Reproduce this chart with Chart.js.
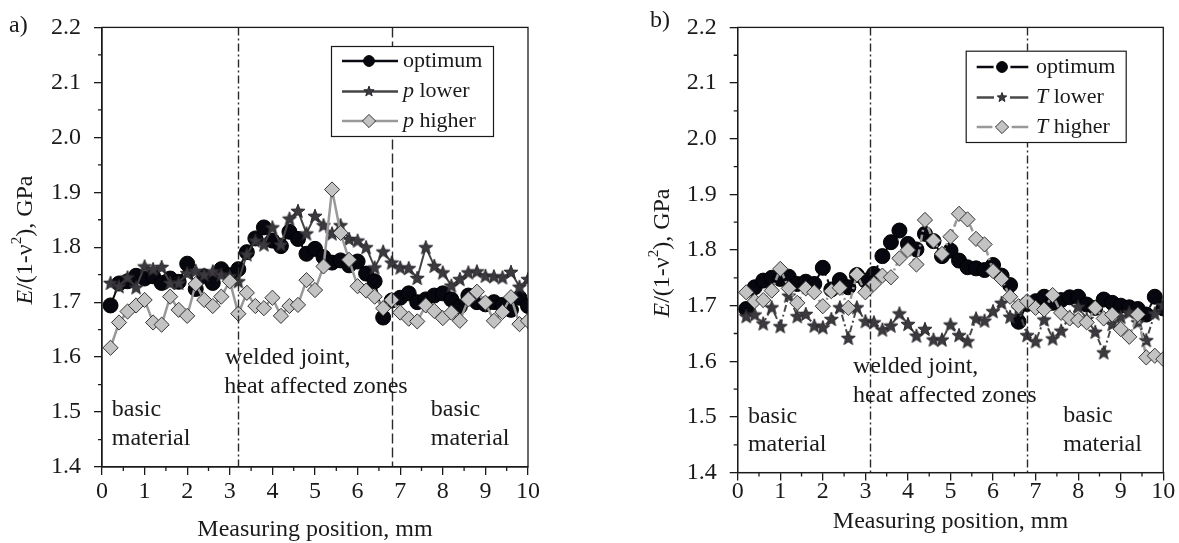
<!DOCTYPE html>
<html>
<head>
<meta charset="utf-8">
<script src="https://cdn.jsdelivr.net/npm/chart.js@4.4.1/dist/chart.umd.min.js"></script>
<style>
  html, body { margin: 0; padding: 0; background: #fff; }
  #wrap { position: relative; width: 1179px; height: 543px; overflow: hidden; }
  #wrap canvas { position: absolute; top: 0; }
</style>
</head>
<body>
<div id="wrap">
  <canvas id="chartA" width="590" height="543" style="left:0;width:590px;height:543px"></canvas>
  <canvas id="chartB" width="589" height="543" style="left:590px;width:589px;height:543px"></canvas>
</div>
<script>
// measuring positions, mm
var positions = [0.2,0.4,0.6,0.8,1.0,1.2,1.4,1.6,1.8,2.0,2.2,2.4,2.6,2.8,3.0,3.2,3.4,3.6,3.8,4.0,
  4.2,4.4,4.6,4.8,5.0,5.2,5.4,5.6,5.8,6.0,6.2,6.4,6.6,6.8,7.0,7.2,7.4,7.6,7.8,8.0,
  8.2,8.4,8.6,8.8,9.0,9.2,9.4,9.6,9.8,10.0];

// a) pressure variants, E/(1-v^2) in GPa
var aOptimum = [1.694,1.734,1.738,1.748,1.743,1.747,1.735,1.743,1.737,1.770,
  1.724,1.747,1.735,1.760,1.749,1.760,1.791,1.816,1.836,1.812,
  1.802,1.828,1.815,1.788,1.797,1.782,1.772,1.776,1.767,1.774,
  1.752,1.738,1.672,1.703,1.708,1.716,1.700,1.705,1.712,1.716,
  1.705,1.692,1.712,1.700,1.696,1.700,1.695,1.686,1.708,1.693];
var aPLower = [1.735,1.729,1.745,1.727,1.765,1.760,1.764,1.735,1.735,1.753,
  1.757,1.750,1.756,1.750,1.747,1.738,1.787,1.812,1.805,1.836,
  1.805,1.852,1.866,1.825,1.857,1.840,1.825,1.840,1.815,1.812,
  1.800,1.763,1.792,1.772,1.763,1.762,1.744,1.800,1.766,1.754,
  1.730,1.742,1.754,1.756,1.748,1.747,1.745,1.755,1.728,1.742];
var aPHigher = [1.617,1.663,1.683,1.694,1.704,1.663,1.659,1.710,1.686,1.675,
  1.733,1.704,1.693,1.710,1.738,1.679,1.717,1.693,1.689,1.708,
  1.675,1.693,1.695,1.740,1.722,1.765,1.905,1.826,1.777,1.729,
  1.721,1.710,1.689,1.704,1.681,1.670,1.665,1.694,1.684,1.671,
  1.681,1.666,1.705,1.719,1.699,1.666,1.682,1.709,1.660,1.666];

// b) temperature variants
var bOptimum = [1.694,1.733,1.745,1.750,1.748,1.752,1.739,1.743,1.739,1.768,
  1.729,1.746,1.733,1.755,1.745,1.757,1.789,1.814,1.835,1.811,
  1.801,1.829,1.816,1.789,1.799,1.781,1.769,1.767,1.764,1.773,
  1.754,1.737,1.671,1.703,1.708,1.716,1.705,1.710,1.715,1.716,
  1.702,1.696,1.711,1.705,1.700,1.697,1.694,1.684,1.716,1.695];
var bTLower = [1.681,1.684,1.668,1.697,1.663,1.718,1.681,1.685,1.664,1.661,
  1.676,1.697,1.642,1.697,1.672,1.670,1.657,1.664,1.686,1.667,
  1.646,1.658,1.639,1.639,1.666,1.647,1.636,1.677,1.673,1.690,
  1.705,1.680,1.694,1.647,1.636,1.675,1.641,1.655,1.680,1.698,
  1.676,1.653,1.616,1.667,1.680,1.688,1.670,1.638,1.686,1.701];
var bTHigher = [1.724,1.708,1.710,1.727,1.766,1.731,1.705,1.731,1.724,1.699,
  1.726,1.732,1.696,1.756,1.724,1.739,1.754,1.751,1.785,1.800,
  1.774,1.854,1.817,1.793,1.824,1.865,1.855,1.820,1.810,1.762,
  1.748,1.716,1.699,1.708,1.696,1.693,1.719,1.687,1.677,1.674,
  1.670,1.696,1.677,1.684,1.658,1.644,1.684,1.607,1.610,1.604];

var zonesA = [3.2, 6.8];
var zonesB = [3.12, 6.8];
var yMin = 1.4, yMax = 2.2, yStep = 0.1;
var xMin = 0, xMax = 10, xStep = 1;

var SERIF = '"Liberation Serif", "Times New Roman", serif';
var INK = '#1a1a1a';

function toPoints(vals) {
  return vals.map(function (v, i) { return { x: positions[i], y: v }; });
}

function drawMarker(ctx, kind, x, y, r, fill, stroke) {
  ctx.beginPath();
  if (kind === 'circle') {
    ctx.arc(x, y, r, 0, Math.PI * 2);
  } else if (kind === 'diamond') {
    ctx.moveTo(x, y - r); ctx.lineTo(x + r, y); ctx.lineTo(x, y + r); ctx.lineTo(x - r, y);
    ctx.closePath();
  } else {
    for (var i = 0; i < 10; i++) {
      var a = -Math.PI / 2 + i * Math.PI / 5;
      var rr = i % 2 ? r * 0.42 : r;
      ctx.lineTo(x + rr * Math.cos(a), y + rr * Math.sin(a));
    }
    ctx.closePath();
  }
  ctx.fillStyle = fill;
  ctx.fill();
  ctx.lineWidth = 1;
  ctx.strokeStyle = stroke;
  ctx.stroke();
}

function starImage(r) {
  var c = document.createElement('canvas');
  var s = Math.ceil(2 * r + 3);
  c.width = s; c.height = s;
  drawMarker(c.getContext('2d'), 'star', s / 2, s / 2 + 0.6, r, '#3d3a3f', '#2a282c');
  return c;
}
var starImg = starImage(7.4);

function drawParts(ctx, parts, x, y, size) {
  ctx.textAlign = 'left';
  ctx.textBaseline = 'middle';
  parts.forEach(function (p) {
    ctx.font = (p.i ? 'italic ' : '') + size + 'px ' + SERIF;
    ctx.fillText(p.t, x, y);
    x += ctx.measureText(p.t).width;
  });
}

function drawYTitle(ctx, cx, cy, size) {
  var parts = [
    { t: 'E', f: 'italic ' + size + 'px ' + SERIF, dy: 0 },
    { t: '/(1-\u03bd', f: size + 'px ' + SERIF, dy: 0 },
    { t: '2', f: Math.round(size * 0.62) + 'px ' + SERIF, dy: -size * 0.36 },
    { t: '), GPa', f: size + 'px ' + SERIF, dy: 0 }
  ];
  ctx.save();
  ctx.translate(cx, cy);
  ctx.rotate(-Math.PI / 2);
  var w = 0;
  parts.forEach(function (p) { ctx.font = p.f; p.w = ctx.measureText(p.t).width; w += p.w; });
  var xx = -w / 2;
  ctx.textBaseline = 'middle';
  ctx.fillStyle = INK;
  parts.forEach(function (p) { ctx.font = p.f; ctx.fillText(p.t, xx, p.dy); xx += p.w; });
  ctx.restore();
}

var deco = {
  id: 'deco',
  afterDatasetsDraw: function (chart, args, o) {
    var ctx = chart.ctx, ca = chart.chartArea, x = chart.scales.x, y = chart.scales.y;
    ctx.save();
    // zone boundaries
    ctx.strokeStyle = '#2a2a2a';
    ctx.lineWidth = 1.4;
    o.zones.forEach(function (z, i) {
      var px = Math.round(x.getPixelForValue(z)) + 0.5;
      ctx.setLineDash(o.zoneDash[i]);
      ctx.beginPath(); ctx.moveTo(px, ca.top); ctx.lineTo(px, ca.bottom); ctx.stroke();
    });
    ctx.setLineDash([]);
    // frame
    ctx.strokeStyle = INK;
    ctx.lineWidth = 1.3;
    ctx.strokeRect(ca.left, ca.top, ca.right - ca.left, ca.bottom - ca.top);
    // minor ticks
    ctx.beginPath();
    for (var v = yMin + yStep / 2; v < yMax; v += yStep) {
      var py = y.getPixelForValue(v);
      ctx.moveTo(ca.left - 4, py); ctx.lineTo(ca.left, py);
    }
    for (var u = xMin + xStep / 2; u < xMax; u += xStep) {
      var px2 = x.getPixelForValue(u);
      ctx.moveTo(px2, ca.bottom); ctx.lineTo(px2, ca.bottom + 4);
    }
    ctx.stroke();
    // annotations
    ctx.fillStyle = INK;
    o.notes.forEach(function (n) {
      ctx.font = '24px ' + SERIF;
      ctx.textAlign = 'left';
      ctx.textBaseline = 'middle';
      ctx.fillText(n.t, x.getPixelForValue(n.x), y.getPixelForValue(n.y));
    });
    // legend
    var L = o.legend;
    ctx.fillStyle = '#fff';
    ctx.fillRect(L.box[0], L.box[1], L.box[2] - L.box[0], L.box[3] - L.box[1]);
    ctx.strokeStyle = INK;
    ctx.lineWidth = 1.2;
    ctx.strokeRect(L.box[0] + 0.5, L.box[1] + 0.5, L.box[2] - L.box[0], L.box[3] - L.box[1]);
    L.items.forEach(function (it, i) {
      var ry = L.rows[i];
      ctx.strokeStyle = it.color;
      ctx.lineWidth = 2.6;
      ctx.beginPath();
      if (L.split) {
        ctx.moveTo(L.line[0], ry); ctx.lineTo(L.mark - it.r - 3, ry);
        ctx.moveTo(L.mark + it.r + 3, ry); ctx.lineTo(L.line[1], ry);
      } else {
        ctx.moveTo(L.line[0], ry); ctx.lineTo(L.line[1], ry);
      }
      ctx.stroke();
      drawMarker(ctx, it.marker, L.mark, ry, it.r, it.fill, it.stroke);
      ctx.fillStyle = INK;
      drawParts(ctx, it.parts, L.text, ry, 22);
    });
    // titles
    drawYTitle(ctx, o.yTitle[0], o.yTitle[1], 24);
    ctx.fillStyle = INK;
    ctx.font = '24px ' + SERIF;
    ctx.textAlign = 'center';
    ctx.textBaseline = 'middle';
    ctx.fillText('Measuring position, mm', (ca.left + ca.right) / 2, o.xTitleY);
    ctx.textAlign = 'left';
    ctx.fillText(o.panel[0], o.panel[1], o.panel[2]);
    ctx.restore();
  }
};

function makeChart(id, g, series, styles, opts) {
  var kinds = ['circle', 'star', 'diamond'];
  var datasets = series.map(function (vals, i) {
    var s = styles[i];
    return {
      data: toPoints(vals),
      borderColor: s.line,
      borderWidth: s.width,
      borderDash: s.dash,
      pointStyle: kinds[i] === 'star' ? starImg : (kinds[i] === 'diamond' ? 'rectRot' : 'circle'),
      pointRadius: kinds[i] === 'diamond' ? 7.6 : 7.5,
      pointBackgroundColor: s.fill,
      pointBorderColor: s.stroke,
      pointBorderWidth: 1,
      order: 3 - i,
      clip: 0,
      tension: 0
    };
  });
  return new Chart(document.getElementById(id), {
    type: 'line',
    data: { datasets: datasets },
    options: {
      responsive: false,
      animation: false,
      events: [],
      layout: { padding: { left: 0, right: g.padRight, top: g.top, bottom: 0 } },
      plugins: { legend: { display: false }, tooltip: { enabled: false }, deco: opts },
      scales: {
        x: {
          type: 'linear', min: xMin, max: xMax,
          afterFit: function (s) { s.height = g.xHeight; },
          ticks: { stepSize: xStep, padding: g.xPad, color: INK, font: { family: SERIF, size: 24 } },
          grid: { drawOnChartArea: false, tickLength: 8, color: INK, lineWidth: 1.3 },
          border: { color: INK, width: 1.3 }
        },
        y: {
          min: yMin, max: yMax,
          afterFit: function (s) { s.width = g.yWidth; },
          ticks: {
            stepSize: yStep, padding: 13, color: INK, font: { family: SERIF, size: 24 },
            callback: function (v) { return v.toFixed(1); }
          },
          grid: { drawOnChartArea: false, tickLength: 8, color: INK, lineWidth: 1.3 },
          border: { color: INK, width: 1.3 }
        }
      }
    },
    plugins: [deco]
  });
}

var markerLook = [
  { marker: 'circle', fill: '#07070f', stroke: '#000', r: 5.4 },
  { marker: 'star', fill: '#3d3a3f', stroke: '#2a282c', r: 5.4 },
  { marker: 'diamond', fill: '#c3c3c3', stroke: '#333', r: 6.6 }
];

makeChart('chartA',
  { top: 21, padRight: 62, yWidth: 102, xHeight: 76, xPad: 2 },
  [aOptimum, aPLower, aPHigher],
  [
    { line: '#0a0a12', width: 2, dash: [], fill: '#07070f', stroke: '#000' },
    { line: '#444', width: 2, dash: [], fill: '#3d3a3f', stroke: '#2a282c' },
    { line: '#999', width: 2.5, dash: [], fill: '#c3c3c3', stroke: '#333' }
  ],
  {
    zones: zonesA,
    zoneDash: [[8, 3, 2, 3], [10, 4]],
    notes: [
      { t: 'basic', x: 0.23, y: 1.504 }, { t: 'material', x: 0.23, y: 1.452 },
      { t: 'basic', x: 7.72, y: 1.504 }, { t: 'material', x: 7.72, y: 1.452 },
      { t: 'welded joint,', x: 2.89, y: 1.599 }, { t: 'heat affected zones', x: 2.87, y: 1.547 }
    ],
    legend: {
      box: [331, 46, 493, 136], rows: [61, 91.5, 121], line: [342, 398], mark: 369, text: 403, split: false,
      items: [
        Object.assign({ color: '#0a0a12', parts: [{ t: 'optimum' }] }, markerLook[0]),
        Object.assign({ color: '#444', parts: [{ t: 'p', i: true }, { t: ' lower' }] }, markerLook[1]),
        Object.assign({ color: '#999', parts: [{ t: 'p', i: true }, { t: ' higher' }] }, markerLook[2])
      ]
    },
    yTitle: [26, 240],
    xTitleY: 530,
    panel: ['a)', 9, 26]
  });

makeChart('chartB',
  { top: 26.7, padRight: 15.7, yWidth: 147.7, xHeight: 70.4, xPad: -3.5 },
  [bOptimum, bTLower, bTHigher],
  [
    { line: '#0a0a12', width: 2, dash: [8, 4], fill: '#07070f', stroke: '#000' },
    { line: '#4a4a4a', width: 2, dash: [7, 3, 2, 3], fill: '#3d3a3f', stroke: '#2a282c' },
    { line: '#999', width: 2.5, dash: [7, 3, 2, 3], fill: '#c3c3c3', stroke: '#333' }
  ],
  {
    zones: zonesB,
    zoneDash: [[8, 3, 2, 3], [8, 3, 2, 3]],
    notes: [
      { t: 'basic', x: 0.24, y: 1.5 }, { t: 'material', x: 0.24, y: 1.45 },
      { t: 'basic', x: 7.65, y: 1.503 }, { t: 'material', x: 7.65, y: 1.45 },
      { t: 'welded joint,', x: 2.71, y: 1.591 }, { t: 'heat affected zones', x: 2.71, y: 1.538 }
    ],
    legend: {
      box: [375.7, 50.7, 535.7, 142], rows: [67, 97.5, 127], line: [386.7, 438.3], mark: 412, text: 446, split: true,
      items: [
        Object.assign({ color: '#0a0a12', parts: [{ t: 'optimum' }] }, markerLook[0]),
        Object.assign({ color: '#4a4a4a', parts: [{ t: 'T', i: true }, { t: ' lower' }] }, markerLook[1], { r: 5 }),
        Object.assign({ color: '#999', parts: [{ t: 'T', i: true }, { t: ' higher' }] }, markerLook[2])
      ]
    },
    yTitle: [73, 253],
    xTitleY: 522,
    panel: ['b)', 60, 21]
  });
</script>
</body>
</html>
